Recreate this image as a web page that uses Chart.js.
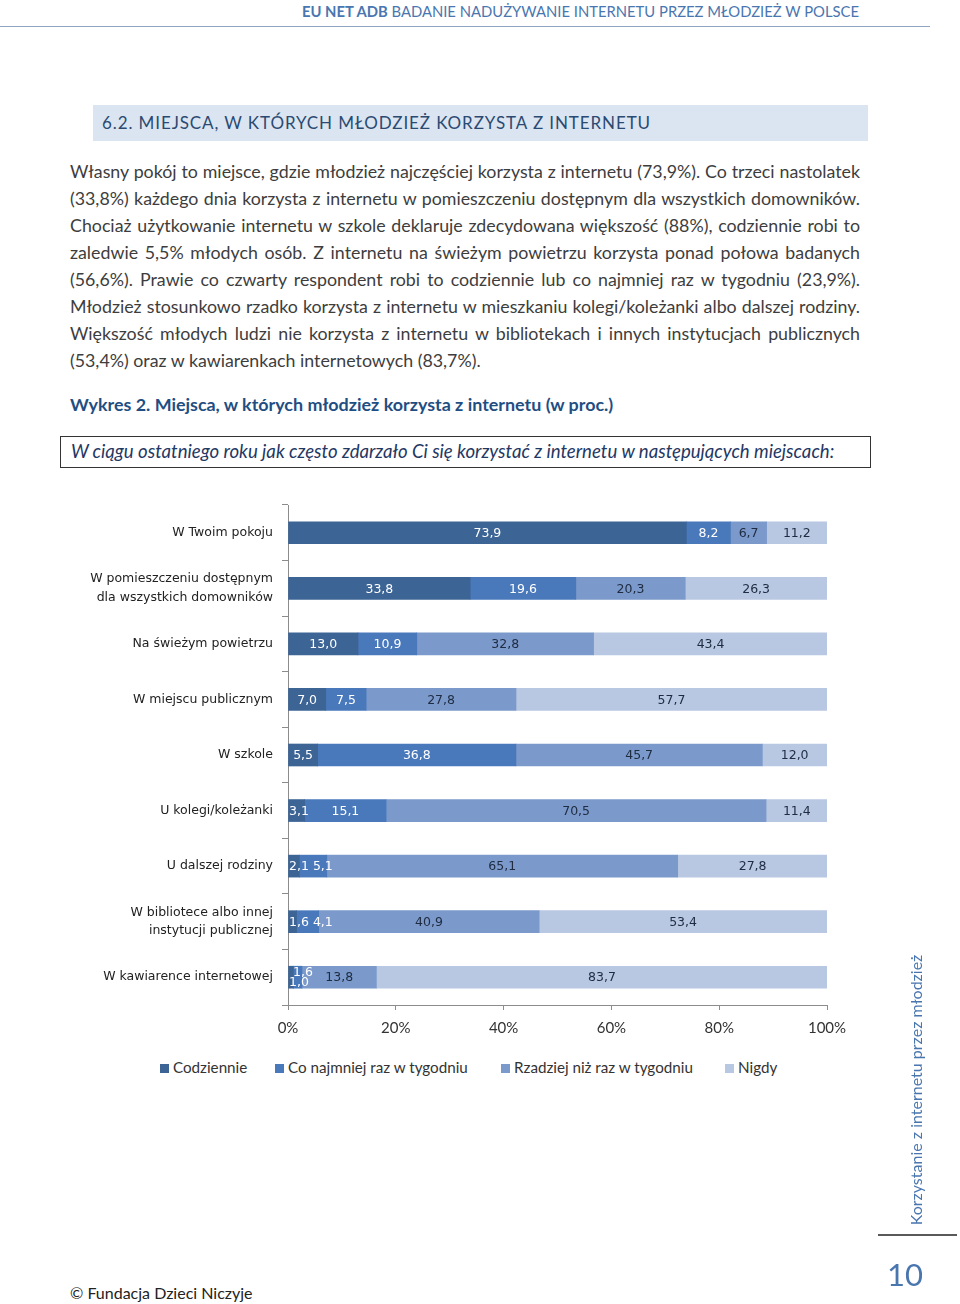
<!DOCTYPE html>
<html lang="pl">
<head>
<meta charset="utf-8">
<script src="https://cdn.jsdelivr.net/npm/chart.js@4/dist/chart.umd.min.js"></script>
<style>
  html, body { margin:0; padding:0; background:#fff; }
  body { width:960px; height:1304px; position:relative; overflow:hidden; font-family: Lato, "Open Sans", sans-serif; color:#3a3a3a; }
  .abs { position:absolute; }
  #hdr { right:101px; top:1px; font-size:14.8px; color:#4a76b0; white-space:nowrap; line-height:20px; }
  #hdr b { font-weight:700; }
  #hdrline { left:0; top:26px; width:930px; height:0; border-top:1.5px solid #8ea5c4; }
  #sect { left:93px; top:105px; width:775px; height:36px; background:#dbe5f1; }
  #sect span { position:absolute; left:9px; top:7px; font-size:17px; letter-spacing:0.9px; color:#2b4a72; white-space:nowrap; }
  #body { left:70px; top:158px; width:790px; font-size:17.8px; line-height:27px; color:#3d3d3d; }
  #body div { text-align:justify; text-align-last:justify; white-space:nowrap; overflow:visible; }
  #body div.last { text-align-last:left; }
  #wyk { left:70px; top:393px; font-size:17.9px; font-weight:700; color:#1f4e82; white-space:nowrap; }
  #qbox { left:60px; top:436px; width:809px; height:30px; border:1px solid #333; box-sizing:content-box; }
  #qbox span { position:absolute; left:10px; top:3px; font-size:18.6px; font-style:italic; color:#1f3864; white-space:nowrap; }
  #chartwrap { left:0; top:490px; width:960px; height:560px; }
  .lg { position:absolute; top:1058px; font-size:15.2px; color:#333; white-space:nowrap; line-height:18px; }
  .lg i { display:inline-block; width:9px; height:9px; margin-right:4px; vertical-align:0px; }
  #side { left:915px; top:1090px; transform:translate(-50%,-50%) rotate(-90deg); font-size:16px; color:#4a76b0; white-space:nowrap; }
  #sideline { left:878px; top:1234px; width:79px; border-top:2px solid #595959; }
  #pg { left:887px; top:1255px; font-size:31px; color:#4a76b0; }
  #foot { left:70px; top:1283px; font-size:16px; color:#222; }
</style>
</head>
<body>
<div id="hdr" class="abs"><b>EU NET ADB</b> BADANIE NADUŻYWANIE INTERNETU PRZEZ MŁODZIEŻ W POLSCE</div>
<div id="hdrline" class="abs"></div>
<div id="sect" class="abs"><span>6.2. MIEJSCA, W KTÓRYCH MŁODZIEŻ KORZYSTA Z INTERNETU</span></div>
<div id="body" class="abs">
  <div>Własny pokój to miejsce, gdzie młodzież najczęściej korzysta z internetu (73,9%). Co trzeci nastolatek</div>
  <div>(33,8%) każdego dnia korzysta z internetu w pomieszczeniu dostępnym dla wszystkich domowników.</div>
  <div>Chociaż użytkowanie internetu w szkole deklaruje zdecydowana większość (88%), codziennie robi to</div>
  <div>zaledwie 5,5% młodych osób. Z internetu na świeżym powietrzu korzysta ponad połowa badanych</div>
  <div>(56,6%). Prawie co czwarty respondent robi to codziennie lub co najmniej raz w tygodniu (23,9%).</div>
  <div>Młodzież stosunkowo rzadko korzysta z internetu w mieszkaniu kolegi/koleżanki albo dalszej rodziny.</div>
  <div>Większość młodych ludzi nie korzysta z internetu w bibliotekach i innych instytucjach publicznych</div>
  <div class="last">(53,4%) oraz w kawiarenkach internetowych (83,7%).</div>
</div>
<div id="wyk" class="abs">Wykres 2. Miejsca, w których młodzież korzysta z internetu (w proc.)</div>
<div id="qbox" class="abs"><span>W ciągu ostatniego roku jak często zdarzało Ci się korzystać z internetu w następujących miejscach:</span></div>
<div id="chartwrap" class="abs"><canvas id="c" width="960" height="560"></canvas></div>
<div id="legend"></div>
<div id="side" class="abs">Korzystanie z internetu przez młodzież</div>
<div id="sideline" class="abs"></div>
<div id="pg" class="abs">10</div>
<div id="foot" class="abs">© Fundacja Dzieci Niczyje</div>

<script>
const categories = [
  'W Twoim pokoju',
  ['W pomieszczeniu dostępnym', 'dla wszystkich domowników'],
  'Na świeżym powietrzu',
  'W miejscu publicznym',
  'W szkole',
  'U kolegi/koleżanki',
  'U dalszej rodziny',
  ['W bibliotece albo innej', 'instytucji publicznej'],
  'W kawiarence internetowej'
];
const seriesNames = ['Codziennie', 'Co najmniej raz w tygodniu', 'Rzadziej niż raz w tygodniu', 'Nigdy'];
const codziennie   = [73.9, 33.8, 13.0,  7.0,  5.5,  3.1,  2.1,  1.6,  1.0];
const coTydzien    = [ 8.2, 19.6, 10.9,  7.5, 36.8, 15.1,  5.1,  4.1,  1.6];
const rzadziej     = [ 6.7, 20.3, 32.8, 27.8, 45.7, 70.5, 65.1, 40.9, 13.8];
const nigdy        = [11.2, 26.3, 43.4, 57.7, 12.0, 11.4, 27.8, 53.4, 83.7];
const xTicks = [0, 20, 40, 60, 80, 100];

const colors = ['#3c6495', '#4a79bb', '#7b9acb', '#b8c7e2'];
const labelColors = ['#ffffff', '#ffffff', '#1e2b40', '#1e2b40'];
const seriesValues = [codziennie, coTydzien, rzadziej, nigdy];
const legendLeft = [160, 275, 501, 725];

const fmt = v => v.toFixed(1).replace('.', ',');

const dataLabels = {
  id: 'dataLabels',
  afterDatasetsDraw(chart) {
    const ctx = chart.ctx;
    const area = chart.chartArea;
    ctx.save();
    ctx.font = '12.5px "DejaVu Sans", sans-serif';
    ctx.textBaseline = 'middle';
    ctx.textAlign = 'left';
    const n = chart.data.labels.length;
    const items = [];
    for (let i = 0; i < n; i++) {
      let prev = null;
      chart.data.datasets.forEach((ds, d) => {
        const el = chart.getDatasetMeta(d).data[i];
        if (!el) return;
        const txt = fmt(ds.data[i]);
        const w = ctx.measureText(txt).width;
        const segW = Math.abs(el.x - el.base);
        let left = (el.x + el.base) / 2 - w / 2;
        let y = el.y + 1;
        if (left < area.left + 1) left = area.left + 1;
        let stacked = false;
        if (prev && left < prev.right + 4) {
          if (segW < w && !prev.stacked) {
            prev.y = el.y + 6; prev.stacked = true;
            left = prev.left + 4; y = el.y - 4; stacked = true;
          } else {
            left = prev.right + 4;
          }
        }
        const item = {txt, left, right: left + w, y, color: labelColors[d], stacked};
        items.push(item);
        prev = item;
      });
    }
    items.forEach(it => { ctx.fillStyle = it.color; ctx.fillText(it.txt, it.left, it.y); });
    ctx.restore();
  }
};

new Chart(document.getElementById('c'), {
  type: 'bar',
  data: {
    labels: categories,
    datasets: seriesValues.map((vals, k) => ({
      label: seriesNames[k],
      data: vals,
      backgroundColor: colors[k],
      borderWidth: 0,
      barThickness: 22
    }))
  },
  options: {
    indexAxis: 'y',
    responsive: false,
    animation: false,
    layout: { padding: { top: 15, right: 133, left: 0, bottom: 0 } },
    plugins: { legend: { display: false }, tooltip: { enabled: false } },
    scales: {
      x: {
        stacked: true, min: 0, max: 100,
        afterBuildTicks: s => { s.ticks = xTicks.map(v => ({ value: v })); },
        afterFit: s => { s.height = 45; },
        grid: { drawOnChartArea: false, tickLength: 5, color: '#8c8c8c' },
        border: { color: '#8c8c8c' },
        ticks: { callback: v => v + '%', color: '#333', font: { family: 'Lato', size: 15 }, padding: 9 }
      },
      y: {
        stacked: true,
        afterFit: s => { s.width = 288; s.paddingTop = 0; s.paddingBottom = 0; },
        grid: { drawOnChartArea: false, offset: true, tickLength: 6, color: '#8c8c8c' },
        border: { color: '#8c8c8c' },
        ticks: { color: '#222', font: { family: '"DejaVu Sans"', size: 12.5, lineHeight: 1.5 }, padding: 9 }
      }
    }
  },
  plugins: [dataLabels]
});

const lg = document.getElementById('legend');
seriesNames.forEach((name, k) => {
  const d = document.createElement('div');
  d.className = 'lg';
  d.style.left = legendLeft[k] + 'px';
  d.innerHTML = '<i style="background:' + colors[k] + '"></i>' + name;
  lg.appendChild(d);
});
</script>
</body>
</html>
